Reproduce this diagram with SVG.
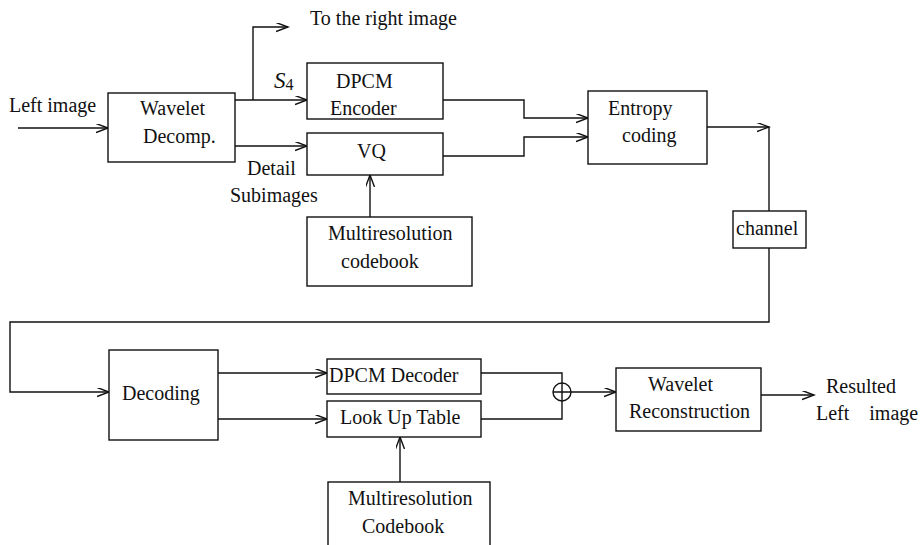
<svg xmlns="http://www.w3.org/2000/svg" width="921" height="545" viewBox="0 0 921 545">
  <style>
    .box { fill: #fff; stroke: #111; stroke-width: 1.4; }
    .wire { fill: none; stroke: #111; stroke-width: 1.4; }
    .lbl { font-family: "Liberation Serif", "Times New Roman", serif; font-size: 20px; fill: #111; }
  </style>
  <defs>
    <marker id="arrow" markerUnits="userSpaceOnUse" markerWidth="14" markerHeight="10" refX="12" refY="4.5" orient="auto">
      <path d="M0,0 L12,4.5 L0,9" fill="none" stroke="#111" stroke-width="1.4"/>
    </marker>
  </defs>
  <rect width="921" height="545" fill="#fff"/>

  <!-- connectors -->
  <g id="connectors">
    <path class="wire" d="M18,128 H108" marker-end="url(#arrow)"/>
    <path class="wire" d="M235,100 H307" marker-end="url(#arrow)"/>
    <path class="wire" d="M253,100 V27 H288" marker-end="url(#arrow)"/>
    <path class="wire" d="M235,146 H307" marker-end="url(#arrow)"/>
    <path class="wire" d="M370,217 V175" marker-end="url(#arrow)"/>
    <path class="wire" d="M443,100 H524 V118 H588" marker-end="url(#arrow)"/>
    <path class="wire" d="M443,156 H524 V137 H588" marker-end="url(#arrow)"/>
    <path class="wire" d="M707,127 H769" marker-end="url(#arrow)"/>
    <path class="wire" d="M769,127 V211"/>
    <path class="wire" d="M769,248 V322 H10 V392 H109" marker-end="url(#arrow)"/>
    <path class="wire" d="M218,373 H327" marker-end="url(#arrow)"/>
    <path class="wire" d="M218,419 H327" marker-end="url(#arrow)"/>
    <path class="wire" d="M400,482 V437" marker-end="url(#arrow)"/>
    <path class="wire" d="M481,373 H562 V383"/>
    <path class="wire" d="M481,419 H562 V401"/>
    <path class="wire" d="M571,392 H616" marker-end="url(#arrow)"/>
    <path class="wire" d="M761,395 H814" marker-end="url(#arrow)"/>
  </g>

  <!-- free labels -->
  <text class="lbl" x="9" y="112">Left image</text>
  <text class="lbl" x="310" y="25">To the right image</text>
  <text x="274" y="88" font-family="Liberation Serif, serif" font-size="23" font-style="italic" fill="#111">S<tspan font-size="16" font-style="normal" dy="2">4</tspan></text>
  <text class="lbl" x="247" y="175">Detail</text>
  <text class="lbl" x="230" y="202">Subimages</text>
  <text class="lbl" x="826" y="393">Resulted</text>
  <text class="lbl" x="816" y="420" xml:space="preserve">Left    image</text>

  <g id="wavelet-decomp">
    <rect class="box" x="108" y="93" width="127" height="69"/>
    <text class="lbl" x="140" y="115">Wavelet</text>
    <text class="lbl" x="143" y="143">Decomp.</text>
  </g>

  <g id="dpcm-encoder">
    <rect class="box" x="307" y="63" width="136" height="56"/>
    <text class="lbl" x="336" y="88">DPCM</text>
    <text class="lbl" x="330" y="115">Encoder</text>
  </g>

  <g id="vq">
    <rect class="box" x="307" y="133" width="136" height="42"/>
    <text class="lbl" x="357" y="158">VQ</text>
  </g>

  <g id="codebook-enc">
    <rect class="box" x="307" y="217" width="165" height="69"/>
    <text class="lbl" x="328" y="240">Multiresolution</text>
    <text class="lbl" x="341" y="268">codebook</text>
  </g>

  <g id="entropy-coding">
    <rect class="box" x="588" y="91" width="119" height="73"/>
    <text class="lbl" x="608" y="115">Entropy</text>
    <text class="lbl" x="622" y="142">coding</text>
  </g>

  <g id="channel">
    <rect class="box" x="733" y="211" width="73" height="37"/>
    <text class="lbl" x="736" y="235">channel</text>
  </g>

  <g id="decoding">
    <rect class="box" x="109" y="350" width="109" height="90"/>
    <text class="lbl" x="122" y="400">Decoding</text>
  </g>

  <g id="dpcm-decoder">
    <rect class="box" x="327" y="359" width="154" height="35"/>
    <text class="lbl" x="329" y="382">DPCM Decoder</text>
  </g>

  <g id="look-up-table">
    <rect class="box" x="327" y="401" width="154" height="36"/>
    <text class="lbl" x="340" y="424">Look Up Table</text>
  </g>

  <g id="codebook-dec">
    <rect class="box" x="328" y="482" width="162" height="70"/>
    <text class="lbl" x="348" y="505">Multiresolution</text>
    <text class="lbl" x="362" y="533">Codebook</text>
  </g>

  <g id="adder">
    <circle class="box" cx="562" cy="392" r="9"/>
    <path class="wire" d="M553,392 H571 M562,383 V401"/>
  </g>

  <g id="wavelet-recon">
    <rect class="box" x="616" y="368" width="145" height="63"/>
    <text class="lbl" x="648" y="391">Wavelet</text>
    <text class="lbl" x="629" y="418">Reconstruction</text>
  </g>
</svg>
